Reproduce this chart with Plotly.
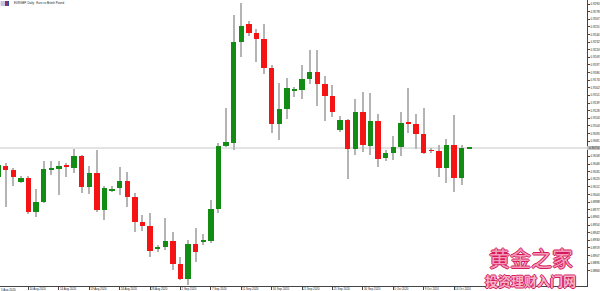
import datetime as dt
import plotly.graph_objects as go

# ---------------- data ----------------
dates = [
    "2020-08-05", "2020-08-06", "2020-08-07", "2020-08-09", "2020-08-10", "2020-08-11",
    "2020-08-12", "2020-08-13", "2020-08-14", "2020-08-16", "2020-08-17", "2020-08-18",
    "2020-08-19", "2020-08-20", "2020-08-21", "2020-08-23", "2020-08-24", "2020-08-25",
    "2020-08-26", "2020-08-27", "2020-08-28", "2020-08-30", "2020-08-31", "2020-09-01",
    "2020-09-02", "2020-09-03", "2020-09-04", "2020-09-06", "2020-09-07", "2020-09-08",
    "2020-09-09", "2020-09-10", "2020-09-11", "2020-09-13", "2020-09-14", "2020-09-15",
    "2020-09-16", "2020-09-17", "2020-09-18", "2020-09-20", "2020-09-21", "2020-09-22",
    "2020-09-23", "2020-09-24", "2020-09-25", "2020-09-27", "2020-09-28", "2020-09-29",
    "2020-09-30", "2020-10-01", "2020-10-02", "2020-10-04", "2020-10-05", "2020-10-06",
    "2020-10-07", "2020-10-08", "2020-10-09", "2020-10-11", "2020-10-12", "2020-10-13",
    "2020-10-14", "2020-10-15", "2020-10-16",
]
opens = [
    0.90272, 0.90440, 0.90379, 0.90196, 0.90257, 0.89739, 0.89892, 0.90392, 0.90394, 0.90455,
    0.90409, 0.90592, 0.90120, 0.90333, 0.89770, 0.90074, 0.90105, 0.90211, 0.89968, 0.89587,
    0.89526, 0.89176, 0.89207, 0.89298, 0.88948, 0.88720, 0.89252, 0.89283, 0.89298, 0.89785,
    0.90744, 0.90790, 0.92327, 0.92601, 0.92464, 0.92372, 0.91931, 0.91079, 0.91307, 0.91596,
    0.91596, 0.91764, 0.91870, 0.91688, 0.91505, 0.90987, 0.91140, 0.90698, 0.91261, 0.90744,
    0.91124, 0.90561, 0.90637, 0.90729, 0.91094, 0.91079, 0.90927, 0.90683, 0.90668, 0.90409,
    0.90759, 0.90257, 0.90713,
]
highs = [
    0.90500, 0.90485, 0.90409, 0.90287, 0.90287, 0.90089, 0.90516, 0.90516, 0.90516, 0.90485,
    0.90698, 0.90607, 0.90440, 0.90683, 0.90135, 0.90135, 0.90424, 0.90348, 0.90029, 0.89694,
    0.89724, 0.89237, 0.89648, 0.89435, 0.89054, 0.89313, 0.89496, 0.89405, 0.89922, 0.90790,
    0.91322, 0.92738, 0.92920, 0.92646, 0.92525, 0.92601, 0.91977, 0.91703, 0.91779, 0.91642,
    0.91977, 0.92205, 0.92205, 0.91809, 0.91672, 0.91200, 0.91155, 0.91459, 0.91566, 0.91551,
    0.91231, 0.90683, 0.90896, 0.91261, 0.91627, 0.91231, 0.91322, 0.90713, 0.90759, 0.90850,
    0.91216, 0.90759, 0.90718,
]
lows = [
    0.90226, 0.89816, 0.90135, 0.90181, 0.89709, 0.89663, 0.89876, 0.90303, 0.89998, 0.90272,
    0.90333, 0.90029, 0.90013, 0.89739, 0.89618, 0.90044, 0.89998, 0.89816, 0.89435, 0.89450,
    0.89054, 0.89131, 0.89161, 0.88857, 0.88704, 0.88628, 0.88978, 0.89237, 0.89268, 0.89724,
    0.90729, 0.90683, 0.92098, 0.92418, 0.92022, 0.91840, 0.90942, 0.90835, 0.91155, 0.91490,
    0.91459, 0.91688, 0.91353, 0.91124, 0.91185, 0.90957, 0.90242, 0.90607, 0.90653, 0.90607,
    0.90424, 0.90516, 0.90531, 0.90592, 0.90942, 0.90698, 0.90622, 0.90637, 0.90272, 0.90181,
    0.90044, 0.90150, 0.90708,
]
closes = [
    0.90455, 0.90379, 0.90272, 0.90257, 0.89739, 0.89892, 0.90394, 0.90394, 0.90440, 0.90424,
    0.90592, 0.90120, 0.90333, 0.89770, 0.90105, 0.90089, 0.90211, 0.89968, 0.89587, 0.89526,
    0.89146, 0.89207, 0.89298, 0.88948, 0.88720, 0.89252, 0.89131, 0.89313, 0.89785, 0.90744,
    0.90805, 0.92327, 0.92570, 0.92464, 0.92372, 0.91931, 0.91079, 0.91307, 0.91627, 0.91598,
    0.91764, 0.91870, 0.91688, 0.91505, 0.91261, 0.91140, 0.90698, 0.91261, 0.90759, 0.91124,
    0.90546, 0.90637, 0.90729, 0.91094, 0.91079, 0.90927, 0.90637, 0.90668, 0.90409, 0.90759,
    0.90257, 0.90713, 0.90713,
]
price_ticks = [
    0.92905, 0.92789, 0.92673, 0.92557, 0.92441, 0.92325, 0.92209, 0.92093, 0.91977,
    0.91861, 0.91745, 0.91629, 0.91513, 0.91397, 0.91281, 0.91165, 0.91049, 0.90933,
    0.90817, 0.90585, 0.90469, 0.90353, 0.90237, 0.90121, 0.90005, 0.89889,
    0.89773, 0.89657, 0.89541, 0.89425, 0.89309, 0.89193, 0.89077, 0.88961, 0.88845,
]
last_price = 0.90713
title_text = "EURGBP, Daily:  Euro vs British Pound"

# ---------------- styles ----------------
UP = "#128c12"
DOWN = "#f51414"
WICK = "#b4b4b4"
MIN_BODY = 0.00012
LABEL_FONT = dict(family="Liberation Sans, Arial", size=2.9, color="#222222")

x = list(range(len(dates)))
body_base = [min(o, c) for o, c in zip(opens, closes)]
body_h = [max(abs(c - o), MIN_BODY) for o, c in zip(opens, closes)]
body_col = [UP if c >= o else DOWN for o, c in zip(opens, closes)]
wick_h = [h - l for h, l in zip(highs, lows)]

def fmt_date(s):
    d = dt.date.fromisoformat(s)
    return f"{d.day} {d.strftime('%b %Y')}"

tick_idx = x[::4]
tick_txt = [fmt_date(dates[i]) for i in tick_idx]

fig = go.Figure()
fig.add_trace(go.Bar(x=x, y=wick_h, base=lows, width=0.14,
                     marker=dict(color=WICK, line=dict(width=0)), hoverinfo="skip"))
fig.add_trace(go.Bar(x=x, y=body_h, base=body_base, width=0.7,
                     marker=dict(color=body_col, line=dict(width=0)), hoverinfo="skip"))

W, H = 600, 291
ML, MR, MT, MB = 0, 13, 0, 5
PW = W - ML - MR
PH = H - MT - MB

fig.update_layout(
    width=W, height=H,
    margin=dict(l=ML, r=MR, t=MT, b=MB, pad=0),
    paper_bgcolor="white", plot_bgcolor="white",
    barmode="overlay", bargap=0, showlegend=False,
    xaxis=dict(range=[0.25, 77.49], showgrid=False, zeroline=False,
               tickmode="array", tickvals=tick_idx, ticktext=tick_txt,
               ticks="outside", ticklen=3, tickwidth=1, tickcolor="#444",
               ticklabelposition="outside right", tickfont=LABEL_FONT,
               showline=True, linecolor="#444", linewidth=1, automargin=False),
    yaxis=dict(range=[0.88613, 0.92966], side="right", showgrid=False, zeroline=False,
               tickmode="array", tickvals=price_ticks,
               ticktext=[f"{v:.5f}" for v in price_ticks],
               ticks="outside", ticklen=2, tickwidth=1, tickcolor="#444",
               tickfont=LABEL_FONT, ticklabelstandoff=0,
               showline=True, linecolor="#444", linewidth=1, automargin=False),
)

# first date label (its tick sits just left of the visible range)
fig.add_annotation(xref="paper", yref="paper", x=0, y=0, yshift=-1.2,
                   text=tick_txt[0], showarrow=False, xanchor="left", yanchor="top",
                   font=LABEL_FONT, borderpad=0)

# bid line and current price label
fig.add_shape(type="line", xref="paper", yref="y", x0=0, x1=1, y0=last_price, y1=last_price,
              line=dict(color="#c8c8c8", width=1), layer="below")
fig.add_shape(type="rect", xref="paper", yref="y", x0=1.0, x1=1.04,
              y0=last_price - 0.0003, y1=last_price + 0.0003,
              fillcolor="#c4c4c4", line=dict(width=0), layer="above")
fig.add_annotation(xref="paper", yref="y", x=1.0, y=last_price, xshift=1,
                   text=f"{last_price:.5f}", showarrow=False, xanchor="left",
                   yanchor="middle", font=LABEL_FONT, borderpad=0)

# title + icon
fig.add_shape(type="rect", xref="paper", yref="paper", x0=0.5 / PW, x1=4.3 / PW,
              y0=1 - 6 / PH, y1=1 - 1 / PH, fillcolor="#c8c4e0", line=dict(width=0))
fig.add_shape(type="rect", xref="paper", yref="paper", x0=4.8 / PW, x1=9 / PW,
              y0=1 - 6 / PH, y1=1 - 1 / PH, fillcolor="#2a4cb0", line=dict(width=0))
fig.add_shape(type="rect", xref="paper", yref="paper", x0=6.4 / PW, x1=7.6 / PW,
              y0=1 - 6 / PH, y1=1 - 1 / PH, fillcolor="#e02020", line=dict(width=0))
fig.add_annotation(xref="paper", yref="paper", x=11.5 / PW, y=1 - 3.5 / PH,
                   text=title_text, showarrow=False, xanchor="left", yanchor="middle",
                   font=LABEL_FONT)

# watermark
outline1 = "1px 0 #d41a5c, -1px 0 #d41a5c, 0 1px #d41a5c, 0 -1px #d41a5c"
fig.add_annotation(xref="paper", yref="paper", x=531 / PW, y=1 - 257 / PH,
                   text="黄金之家", showarrow=False, xanchor="center", yanchor="middle",
                   font=dict(family="Noto Sans CJK SC", size=21, color="#f59ab8",
                             shadow=outline1), borderpad=0)
fig.add_annotation(xref="paper", yref="paper", x=530 / PW, y=1 - 280.5 / PH,
                   text="<b>投资理财入门网</b>", showarrow=False, xanchor="center",
                   yanchor="middle",
                   font=dict(family="Noto Sans CJK SC", size=13, color="#f7b2c6",
                             shadow=outline1), borderpad=0)

fig.write_html("out.html")
